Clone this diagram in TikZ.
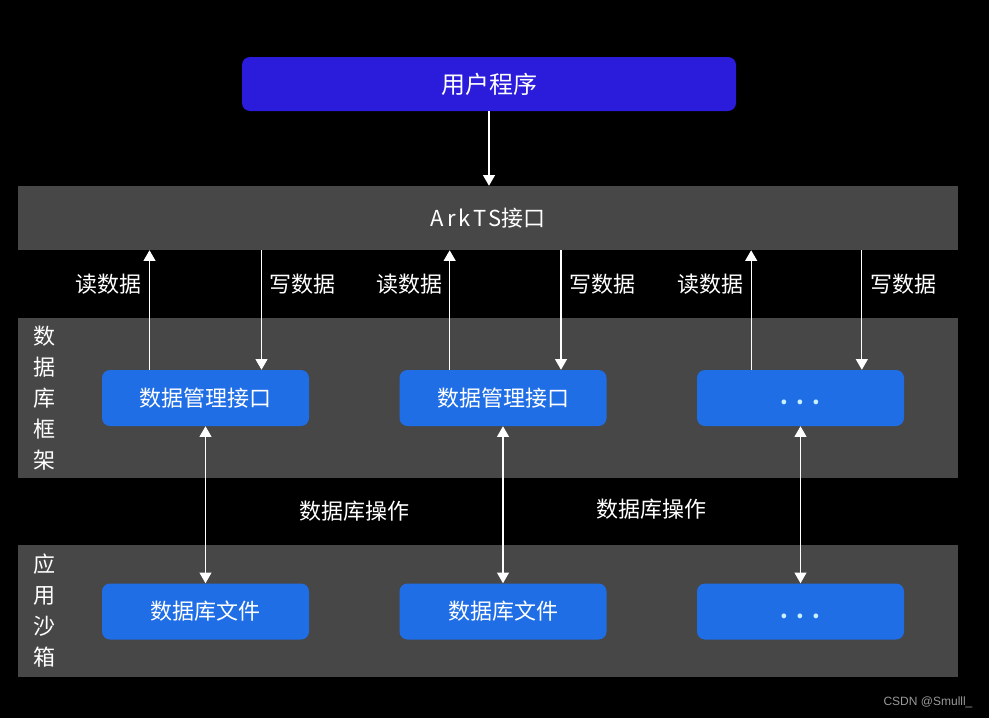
\documentclass[tikz,border=0pt]{standalone}
\usepackage{fontspec}
\setmainfont{Noto Sans CJK SC}
\newfontfamily\arkfont[LetterSpace=14]{Noto Sans CJK SC}
\newfontfamily\markfont{Liberation Sans}
\usetikzlibrary{arrows.meta, positioning, calc}

\definecolor{bandgray}{HTML}{474747}
\definecolor{userblue}{HTML}{2A1CDA}
\definecolor{boxblue}{HTML}{1F6EE6}
\definecolor{dotcyan}{HTML}{C8F0FF}
\definecolor{markgray}{HTML}{9A9A9A}

\tikzset{
    band/.style={fill=bandgray, minimum width=705pt, inner sep=0pt},
    userbox/.style={fill=userblue, rounded corners=6pt, minimum width=370.5pt, minimum height=40.5pt, text=white, font=\fontsize{18}{22}\selectfont},
    blubox/.style={fill=boxblue, rounded corners=6pt, minimum width=155.25pt, minimum height=42pt, inner sep=0pt, text=white, font=\fontsize{16.5}{20}\selectfont},
    dotbox/.style={blubox, text=dotcyan, text height=10pt, text depth=0pt, font=\bfseries\fontsize{16.5}{20}\selectfont},
    lbl/.style={text=white, inner sep=0pt, font=\fontsize{16.5}{23.25}\selectfont},
    arr/.style={draw=white, line width=0.8pt, -{Triangle[width=9pt,length=8pt]}},
    dblarr/.style={draw=white, line width=0.8pt, {Triangle[width=9pt,length=8pt]}-{Triangle[width=9pt,length=8pt]}}
}

\begin{document}
\begin{tikzpicture}[x=0.75pt, y=-0.75pt]
    \fill[black] (0,0) rectangle (989,718);
    \useasboundingbox (0,0) rectangle (989,718);

    \node[userbox] (user) at (489,84) {用户程序};
    \node[band, minimum height=48pt, text=white, font=\fontsize{16.5}{20}\selectfont] (ark) at (488,218) {{\arkfont ArkTS}接口};
    \node[band, minimum height=120pt] (frame) at (488,398) {};
    \node[band, minimum height=99pt] (sandbox) at (488,611) {};

    \node[lbl, align=center] (framelbl) at (44,398) {数\\据\\库\\框\\架};
    \node[lbl, align=center] (sandboxlbl) at (44,611) {应\\用\\沙\\箱};

    \node[blubox] (m1) at (205.5,398) {数据管理接口};
    \node[blubox] (m2) at (503,398) {数据管理接口};
    \node[dotbox] (m3) at (800.5,398) {.\hspace{6pt}.\hspace{6pt}.};
    \node[blubox] (f1) at (205.5,611.5) {数据库文件};
    \node[blubox] (f2) at (503,611.5) {数据库文件};
    \node[dotbox] (f3) at (800.5,611.5) {.\hspace{6pt}.\hspace{6pt}.};

    \draw[arr] (user.south) -- (user.south |- ark.north);

    \draw[arr] ([xshift=-42pt]m1.north) -- ([xshift=-42pt]m1.north |- ark.south);
    \draw[arr] ([xshift=42pt]m1.north |- ark.south) -- ([xshift=42pt]m1.north);
    \draw[arr] ([xshift=-40pt]m2.north) -- ([xshift=-40pt]m2.north |- ark.south);
    \draw[arr] ([xshift=43.5pt]m2.north |- ark.south) -- ([xshift=43.5pt]m2.north);
    \draw[arr] ([xshift=-37pt]m3.north) -- ([xshift=-37pt]m3.north |- ark.south);
    \draw[arr] ([xshift=46pt]m3.north |- ark.south) -- ([xshift=46pt]m3.north);

    \node[lbl, anchor=east] (r1) at (142,284) {读数据};
    \node[lbl, anchor=west] (w1) at (269,284) {写数据};
    \node[lbl, anchor=east] (r2) at (443,284) {读数据};
    \node[lbl, anchor=west] (w2) at (569,284) {写数据};
    \node[lbl, anchor=east] (r3) at (744,284) {读数据};
    \node[lbl, anchor=west] (w3) at (870,284) {写数据};

    \draw[dblarr] (m1.south) -- (f1.north);
    \draw[dblarr] (m2.south) -- (f2.north);
    \draw[dblarr] (m3.south) -- (f3.north);

    \node[lbl, yshift=-5pt] (op1) at ($(m1.south)!0.5!(f2.north)$) {数据库操作};
    \node[lbl, yshift=-3pt] (op2) at ($(m2.south)!0.5!(f3.north)$) {数据库操作};

    \node[text=markgray, inner sep=0pt, font=\markfont\fontsize{9}{11}\selectfont] (mark) at (928,702) {CSDN @Smulll\_};
\end{tikzpicture}
\end{document}
